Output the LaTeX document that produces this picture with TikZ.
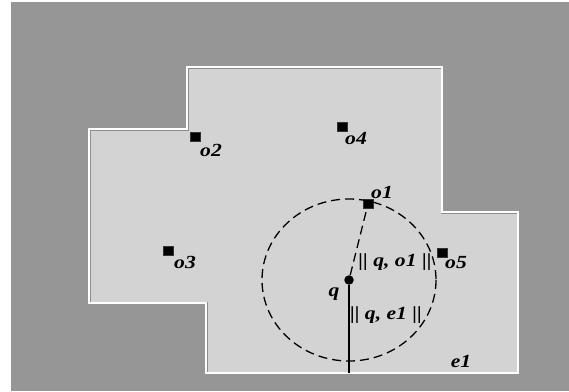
\documentclass[tikz,border=0pt]{standalone}
\usepackage{fontspec}
\setmainfont{Liberation Serif}
\newfontfamily\lblfont[FakeStretch=1.17]{Liberation Serif}
\usepackage{tikz}
\usetikzlibrary{positioning}
\definecolor{bggray}{RGB}{150,150,150}
\definecolor{roomgray}{RGB}{211,211,211}
\definecolor{edgegray}{RGB}{140,140,140}

\begin{document}
\begin{tikzpicture}[x=1pt, y=-1pt,
        obj/.style={fill=black, draw=black!80, minimum width=9.5pt, minimum height=9pt, inner sep=0pt},
        qpoint/.style={circle, fill=black, minimum size=9.5pt, inner sep=0pt},
        lbl/.style={anchor=base, inner sep=0pt, font=\lblfont\fontsize{18.5}{20}\selectfont\bfseries\itshape},
        rangecirc/.style={line width=1.3pt, dash pattern=on 9pt off 5pt},
        distline/.style={line width=1.3pt, dash pattern=on 9pt off 5pt},
        wallline/.style={line width=1.6pt}
      ]
      \useasboundingbox (0,0) rectangle (569,391);
      \fill[white] (0,0) rectangle (569,391);
      \fill[bggray] (11,2) rectangle (569,391);

      % region outline
      \coordinate (r1) at (187,67);
      \coordinate (r2) at (442,67);
      \coordinate (r3) at (442,212);
      \coordinate (r4) at (518,212);
      \coordinate (r5) at (518,373);
      \coordinate (r6) at (206,373);
      \coordinate (r7) at (206,303);
      \coordinate (r8) at (89,303);
      \coordinate (r9) at (89,129);
      \coordinate (r10) at (187,129);
      \begin{scope}
        \clip (r1) -- (r2) -- (r3) -- (r4) -- (r5) -- (r6) -- (r7) -- (r8) -- (r9) -- (r10) -- cycle;
        \fill[roomgray] (r1) -- (r2) -- (r3) -- (r4) -- (r5) -- (r6) -- (r7) -- (r8) -- (r9) -- (r10) -- cycle;
        \draw[edgegray, line width=3pt] (r1) -- (r2) -- (r3) -- (r4) -- (r5) -- (r6) -- (r7) -- (r8) -- (r9) -- (r10) -- cycle;
      \end{scope}
      \draw[white, line width=1.2pt] (r1) -- (r2) -- (r3) -- (r4) -- (r5) -- (r6) -- (r7) -- (r8) -- (r9) -- (r10) -- cycle;

      % objects
      \node[obj] (o1) at (368,204) {};
      \node[obj] (o2) at (195,137) {};
      \node[obj] (o3) at (168,251) {};
      \node[obj] (o4) at (342,127) {};
      \node[obj] (o5) at (442,253) {};
      \node[lbl] (o1l) at (382,198) {o1};
      \node[lbl] (o2l) at (211,156) {o2};
      \node[lbl] (o3l) at (185,268) {o3};
      \node[lbl] (o4l) at (356,144) {o4};
      \node[lbl] (o5l) at (456,268) {o5};

      % query point and range
      \node[qpoint] (q) at (349,280) {};
      \node[lbl] (ql) at (334,296) {q};
      \coordinate (foot) at (349,373);
      \draw[rangecirc] (q) ellipse [x radius=87, y radius=81];
      \draw[distline] (q) -- (o1);
      \draw[wallline] (q) -- (foot);
      \node[lbl] (dqo) at (395,266) {|| q, o1 ||};
      \node[lbl] (dqe) at (386,319) {|| q, e1 ||};
      \node[lbl] (e1) at (461,367) {e1};
    \end{tikzpicture}
\end{document}
